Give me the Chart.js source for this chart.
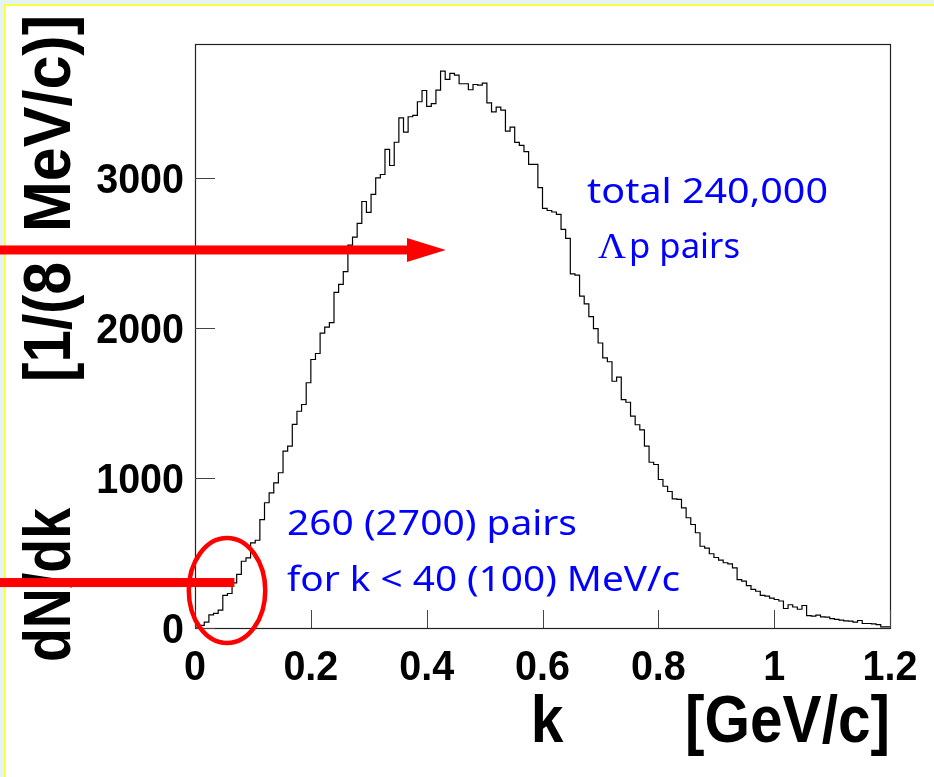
<!DOCTYPE html>
<html>
<head>
<meta charset="utf-8">
<script src="https://cdn.jsdelivr.net/npm/chart.js@4.4.0/dist/chart.umd.min.js"></script>
<style>
  html, body { margin: 0; padding: 0; background: #e4f4f4; }
  canvas { display: block; }
</style>
</head>
<body>
<canvas id="chart" width="934" height="777"></canvas>
<script>
// ─────────────────────────────────────────────
// Data: dN/dk for Lambda-p pairs, 8 MeV/c bins
// ─────────────────────────────────────────────
const binWidth = 0.008; // GeV/c

const counts = [
  5, 17, 39, 88, 97, 119, 217, 230, 301, 357, 445, 468, 568, 585, 723, 835, 901, 968, 1035, 1179, 1212, 1357, 1445, 1490, 1635,
  1790, 1830, 1965, 2005, 2035, 2237, 2290, 2375, 2552, 2605, 2697, 2843, 2770, 2890, 3001, 3023, 3190, 3083, 3238, 3401, 3305, 3408, 3417, 3508, 3583,
  3477, 3495, 3585, 3712, 3657, 3697, 3685, 3628, 3628, 3588, 3623, 3619, 3632, 3501, 3441, 3472, 3452, 3312, 3339, 3237, 3217, 3175, 3090, 3090, 2935,
  2797, 2783, 2773, 2757, 2657, 2597, 2361, 2352, 2212, 2161, 2075, 1995, 1900, 1801, 1775, 1645, 1672, 1523, 1505, 1412, 1355, 1321, 1212, 1105, 1090,
  990, 945, 910, 861, 857, 801, 735, 690, 635, 545, 532, 495, 470, 452, 435, 428, 401, 323, 312, 283, 257, 245, 217, 212, 199,
  190, 180, 130, 155, 140, 125, 150, 83, 79, 86, 74, 72, 63, 57, 52, 48, 46, 39, 50, 30, 30, 28, 23, 8, 8,
];

const xTicks      = [0, 0.2, 0.4, 0.6, 0.8, 1, 1.2];
const xTickLabels = ['0', '0.2', '0.4', '0.6', '0.8', '1', '1.2'];
const yTicks      = [0, 1000, 2000, 3000];
const yTickLabels = ['0', '1000', '2000', '3000'];

const xMax = 1.2;
const yMax = 3893;

// annotation anchors, in axis units
const arrowLevel   = 2520;   // long red arrow
const arrowTip     = 0.433;
const arrowHead    = 0.366;
const barLevel     = 303;    // short red bar into the ellipse
const barEnd       = 0.068;
const ellipseX     = 0.0553;
const ellipseY     = 250;
const ellipseRx    = 0.066;
const ellipseRy    = 350;

// ─────────────────────────────────────────────
// Helpers
// ─────────────────────────────────────────────
function putText(ctx, str, x, y, font, opts = {}) {
  ctx.save();
  ctx.font = font;
  ctx.translate(x, y);
  if (opts.rot) ctx.rotate(opts.rot);
  let sx = opts.sx || 1;
  if (opts.width) sx = opts.width / ctx.measureText(str).width;
  ctx.scale(sx, 1);
  ctx.textAlign = opts.align || 'left';
  ctx.textBaseline = 'alphabetic';
  ctx.fillStyle = opts.color || '#000';
  ctx.fillText(str, 0, 0);
  ctx.restore();
}

const BOLD = (px) => `bold ${px}px "Liberation Sans", Arial, sans-serif`;
const BLUE = (px) => `${px}px "Noto Sans", sans-serif`;

// ─────────────────────────────────────────────
// ROOT-like frame, ticks, labels and annotations
// ─────────────────────────────────────────────
const rootStyle = {
  id: 'rootStyle',
  beforeDraw(chart) {
    const { ctx, width, height } = chart;
    ctx.save();
    ctx.fillStyle = '#e4f4f4';
    ctx.fillRect(0, 0, width, height);
    ctx.fillStyle = '#ffff40';
    ctx.fillRect(4, 4, width, height);
    ctx.fillStyle = '#ffffff';
    ctx.fillRect(6, 6, width, height);
    ctx.restore();
  },
  afterDatasetsDraw(chart) {
    const { ctx, chartArea: a } = chart;
    const xs = chart.scales.x;
    const ys = chart.scales.y;

    // frame
    ctx.save();
    ctx.strokeStyle = '#222';
    ctx.lineWidth = 1.2;
    ctx.strokeRect(a.left + 0.5, a.top + 0.5, a.right - a.left, a.bottom - a.top);

    // inward ticks
    ctx.strokeStyle = '#444';
    ctx.lineWidth = 1;
    ctx.beginPath();
    xTicks.forEach((v) => {
      const px = Math.round(xs.getPixelForValue(v)) + 0.5;
      ctx.moveTo(px, a.bottom);
      ctx.lineTo(px, a.bottom - 18);
    });
    yTicks.forEach((v) => {
      const py = Math.round(ys.getPixelForValue(v)) + 0.5;
      ctx.moveTo(a.left, py);
      ctx.lineTo(a.left + 20, py);
    });
    ctx.stroke();
    ctx.restore();

    // tick labels
    xTicks.forEach((v, i) => {
      putText(ctx, xTickLabels[i], xs.getPixelForValue(v), a.bottom + 52, BOLD(42), { sx: 0.94, align: 'center' });
    });
    yTicks.forEach((v, i) => {
      putText(ctx, yTickLabels[i], a.left - 11, ys.getPixelForValue(v) + 15, BOLD(42), { sx: 0.94, align: 'right' });
    });

    // axis titles
    putText(ctx, 'k', 547, 742, BOLD(66), { sx: 0.89, align: 'center' });
    putText(ctx, '[GeV/c]', a.right, 742, BOLD(66), { width: 205, align: 'right' });
    putText(ctx, 'dN/dk', 70, 662, BOLD(66), { width: 154, rot: -Math.PI / 2 });
    putText(ctx, '[1/(8', 70, 382, BOLD(66), { width: 120, rot: -Math.PI / 2 });
    putText(ctx, 'MeV/c)]', 70, 232, BOLD(66), { width: 217, rot: -Math.PI / 2 });

    // red arrow
    ctx.save();
    ctx.fillStyle = '#ff0000';
    const ay = ys.getPixelForValue(arrowLevel);
    const ah = xs.getPixelForValue(arrowHead);
    ctx.fillRect(0, ay - 4.5, ah + 2, 9);
    ctx.beginPath();
    ctx.moveTo(ah, ay - 12);
    ctx.lineTo(xs.getPixelForValue(arrowTip), ay);
    ctx.lineTo(ah, ay + 12);
    ctx.closePath();
    ctx.fill();

    // short bar + ellipse
    const by = ys.getPixelForValue(barLevel);
    ctx.fillRect(0, by - 4.5, xs.getPixelForValue(barEnd), 9);
    ctx.strokeStyle = '#ff0000';
    ctx.lineWidth = 4.5;
    ctx.beginPath();
    ctx.ellipse(
      xs.getPixelForValue(ellipseX), ys.getPixelForValue(ellipseY),
      xs.getPixelForValue(ellipseRx) - xs.getPixelForValue(0),
      ys.getPixelForValue(0) - ys.getPixelForValue(ellipseRy),
      0, 0, Math.PI * 2);
    ctx.stroke();
    ctx.restore();

    // blue notes
    const blue = '#0000ff';
    putText(ctx, 'total 240,000', 587, 203, BLUE(35), { width: 241, color: blue });
    putText(ctx, 'Λ', 598, 258, '36px "Liberation Serif", serif', { width: 28, color: blue });
    putText(ctx, 'p pairs', 629, 258, BLUE(35), { width: 111, color: blue });
    putText(ctx, '260 (2700) pairs', 287, 535, BLUE(35), { width: 290, color: blue });
    putText(ctx, 'for k < 40 (100) MeV/c', 287, 591, BLUE(35), { width: 393, color: blue });
  },
};

// ─────────────────────────────────────────────
// Chart
// ─────────────────────────────────────────────
const points = counts.map((c, i) => ({ x: i * binWidth, y: c }));
points.push({ x: counts.length * binWidth, y: counts[counts.length - 1] });

new Chart(document.getElementById('chart'), {
  type: 'line',
  data: {
    datasets: [{
      data: points,
      borderColor: '#000000',
      borderWidth: 1.2,
      pointRadius: 0,
      stepped: 'before',
      fill: false,
    }],
  },
  options: {
    responsive: false,
    animation: false,
    devicePixelRatio: 1,
    events: [],
    layout: { padding: { left: 195, top: 44, right: 44, bottom: 149 } },
    plugins: { legend: { display: false }, tooltip: { enabled: false } },
    scales: {
      x: { type: 'linear', min: 0, max: xMax, display: false },
      y: { type: 'linear', min: 0, max: yMax, display: false },
    },
  },
  plugins: [rootStyle],
});
</script>
</body>
</html>
